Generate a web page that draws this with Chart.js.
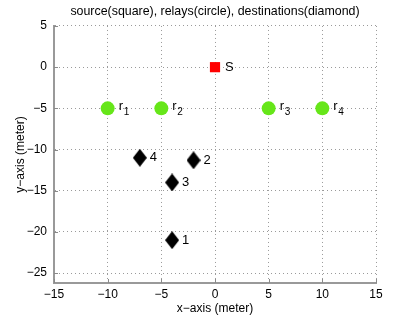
<!DOCTYPE html>
<html>
<head>
<meta charset="utf-8">
<script src="https://cdn.jsdelivr.net/npm/chart.js@4"></script>
<style>
body { margin: 0; background: #fff; }
</style>
</head>
<body>
<canvas id="chartCanvas" width="415" height="319"></canvas>
<script>
let sourceX = [0];
let sourceY = [0];
let sourceLabels = ['S'];
let relayX = [-10, -5, 5, 10];
let relayY = [-5, -5, -5, -5];
let relayLabels = ['1', '2', '3', '4'];
let destX = [-4, -2, -4, -7];
let destY = [-21, -11.3, -14, -11];
let destLabels = ['1', '2', '3', '4'];
let xTicks = [-15, -10, -5, 0, 5, 10, 15];
let yTicks = [5, 0, -5, -10, -15, -20, -25];

let font = 'Liberation Sans, Arial, Helvetica, sans-serif';

function toPoints(xs, ys) {
    return xs.map((x, i) => ({ x: x, y: ys[i] }));
}

function minus(v) {
    return String(v).replace('-', '\u2212');
}

// elongated diamond marker
let diamond = document.createElement('canvas');
diamond.width = 14;
diamond.height = 18;
let dctx = diamond.getContext('2d');
dctx.fillStyle = '#000';
dctx.beginPath();
dctx.moveTo(7, 0);
dctx.lineTo(14, 9);
dctx.lineTo(7, 18);
dctx.lineTo(0, 9);
dctx.closePath();
dctx.fill();

let pointLabels = {
    id: 'pointLabels',
    afterDatasetsDraw(chart) {
        let ctx = chart.ctx;
        chart.data.datasets.forEach((ds, i) => {
            let meta = chart.getDatasetMeta(i);
            meta.data.forEach((pt, j) => {
                ctx.save();
                ctx.fillStyle = '#000';
                ctx.textBaseline = 'middle';
                ctx.textAlign = 'left';
                if (ds.sub) {
                    ctx.font = '13px ' + font;
                    ctx.fillText('r', pt.x + 11, pt.y - 2);
                    ctx.font = '10px ' + font;
                    ctx.fillText(ds.marks[j], pt.x + 16, pt.y + 4);
                } else {
                    ctx.font = '13px ' + font;
                    ctx.fillText(ds.marks[j], pt.x + 10, pt.y);
                }
                ctx.restore();
            });
        });
    }
};

// small inward tick marks, matlab style
let innerTicks = {
    id: 'innerTicks',
    afterDraw(chart) {
        let ctx = chart.ctx;
        let a = chart.chartArea;
        let xs = chart.scales.x, ys = chart.scales.y;
        ctx.save();
        ctx.strokeStyle = '#8a8a8a';
        ctx.lineWidth = 1;
        ctx.beginPath();
        xTicks.forEach(v => {
            let px = Math.round(xs.getPixelForValue(v)) + 0.5;
            ctx.moveTo(px, a.bottom);
            ctx.lineTo(px, a.bottom - 4);
        });
        yTicks.forEach(v => {
            let py = Math.round(ys.getPixelForValue(v)) + 0.5;
            ctx.moveTo(a.left, py);
            ctx.lineTo(a.left + 4, py);
        });
        ctx.stroke();
        ctx.restore();
    }
};

let ctx = document.getElementById('chartCanvas').getContext('2d');
let chart = new Chart(ctx, {
    type: 'scatter',
    data: {
        datasets: [{
            label: 'source',
            data: toPoints(sourceX, sourceY),
            marks: sourceLabels,
            pointStyle: 'rect',
            pointRadius: 7.2,
            backgroundColor: '#ff0000',
            borderColor: '#ff0000',
            borderWidth: 0
        }, {
            label: 'relays',
            data: toPoints(relayX, relayY),
            marks: relayLabels,
            sub: true,
            pointStyle: 'circle',
            pointRadius: 7,
            backgroundColor: '#66e619',
            borderColor: '#66e619',
            borderWidth: 0
        }, {
            label: 'destinations',
            data: toPoints(destX, destY),
            marks: destLabels,
            pointStyle: diamond,
            pointRadius: 8
        }]
    },
    options: {
        responsive: false,
        animation: false,
        layout: { padding: { left: 0, right: 39, top: 0, bottom: 0 } },
        plugins: {
            legend: { display: false },
            tooltip: { enabled: false },
            title: {
                display: true,
                fullSize: false,
                text: 'source(square), relays(circle), destinations(diamond)',
                color: '#000',
                font: { family: font, size: 12.4, weight: 'normal' },
                padding: { top: 4, bottom: 7.1 }
            }
        },
        scales: {
            x: {
                type: 'linear',
                position: 'bottom',
                min: -15,
                max: 15,
                afterBuildTicks: s => { s.ticks = xTicks.map(v => ({ value: v })); },
                afterFit: s => { s.height = 36; },
                grid: { color: '#9a9a9a', lineWidth: 1, drawTicks: false },
                border: { color: '#999999', width: 2, dash: [1, 3] },
                ticks: {
                    color: '#000',
                    padding: 4,
                    font: { family: font, size: 12 },
                    callback: v => minus(v)
                },
                title: {
                    display: true,
                    text: 'x\u2212axis (meter)',
                    color: '#000',
                    font: { family: font, size: 12 },
                    padding: { top: 0, bottom: 3 }
                }
            },
            y: {
                type: 'linear',
                min: -26.2,
                max: 5,
                afterBuildTicks: s => { s.ticks = yTicks.map(v => ({ value: v })); },
                afterFit: s => { s.width = 54; },
                grid: { color: '#9a9a9a', lineWidth: 1, drawTicks: false },
                border: { color: '#999999', width: 2, dash: [1, 3] },
                ticks: {
                    color: '#000',
                    padding: 7,
                    font: { family: font, size: 12 },
                    callback: v => minus(v)
                },
                title: {
                    display: true,
                    text: 'y\u2212axis (meter)',
                    color: '#000',
                    font: { family: font, size: 12 },
                    padding: { top: 13, bottom: 0 }
                }
            }
        }
    },
    plugins: [pointLabels, innerTicks]
});
</script>
</body>
</html>
